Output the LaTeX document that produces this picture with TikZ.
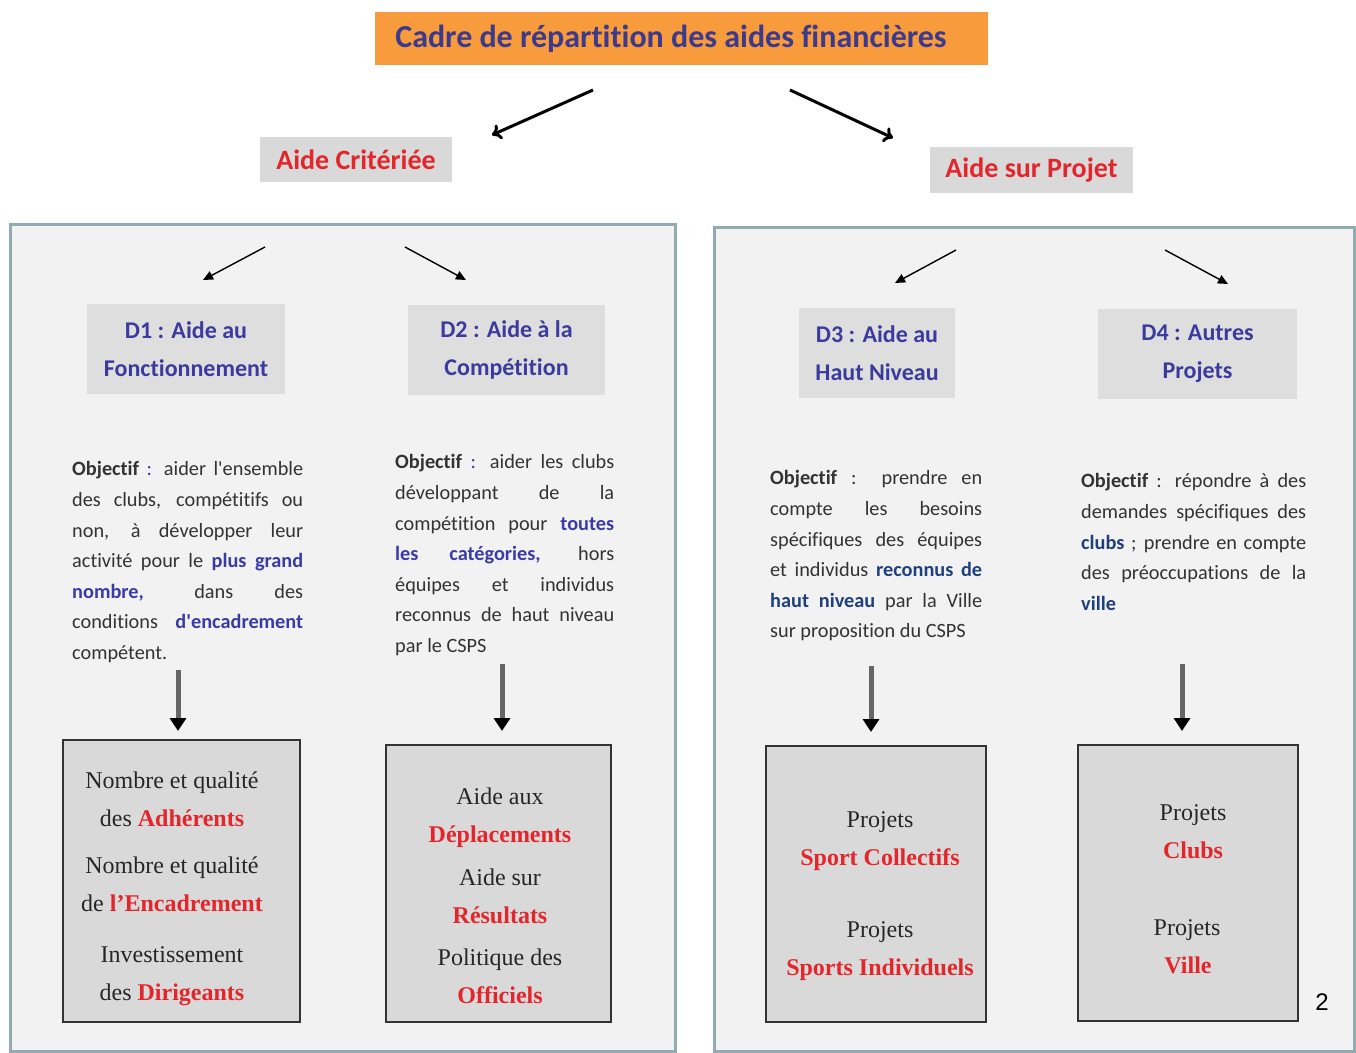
\documentclass[tikz,border=0pt]{standalone}
\usepackage{fontspec}
\setmainfont{Liberation Serif}
\newfontfamily\calfont[Ligatures=NoCommon]{Carlito}
\newfontfamily\arialfont{Liberation Sans}
\usetikzlibrary{arrows.meta}
\definecolor{orangeT}{HTML}{F89B3C}
\definecolor{titleT}{HTML}{3C3A8C}
\definecolor{boxgray}{HTML}{D9D9D9}
\definecolor{hdrgray}{HTML}{DEDEDE}
\definecolor{panelbg}{HTML}{F2F2F2}
\definecolor{panelborder}{HTML}{90ACB0}
\definecolor{hdrblue}{HTML}{3B3B9E}
\definecolor{redT}{HTML}{E3262B}
\definecolor{objblue}{HTML}{3B3BA8}
\definecolor{objnavy}{HTML}{1F3F7F}
\definecolor{bodygray}{HTML}{333333}
\newcommand\bl[1]{\textcolor{objblue}{\textbf{#1}}}
\newcommand\nv[1]{\textcolor{objnavy}{\textbf{#1}}}
\newcommand\rd[1]{\textcolor{redT}{\textbf{#1}}}
\newcommand\justline[2]{\makebox[#1][s]{#2}}
\tikzset{
  titlebox/.style={fill=orangeT, minimum width=613pt, minimum height=53pt, inner sep=0pt,
    font=\calfont\bfseries\fontsize{32}{36}\selectfont, text=titleT},
  aidebox/.style={fill=boxgray, inner sep=0pt, font=\calfont\bfseries\fontsize{28}{32}\selectfont, text=redT},
  panel/.style={fill=panelbg, draw=panelborder, line width=3pt},
  hdrbox/.style={fill=hdrgray, inner sep=0pt, align=center, minimum height=90pt,
    font=\calfont\bfseries\fontsize{24}{38}\selectfont, text=hdrblue},
  objtext/.style={inner sep=0pt, align=left, anchor=north west, text=bodygray,
    font=\calfont\fontsize{20.3}{30.6}\selectfont},
  resbox/.style={fill=boxgray, draw=black!80, line width=2pt, inner sep=0pt},
  restext/.style={inner sep=0pt, align=center, text=black!85, font=\fontsize{24}{38}\selectfont},
  bigarrow/.style={line width=3pt, -{To[length=9pt,width=16pt,line width=3pt]}},
  smallarrow/.style={line width=1.4pt, -{Triangle[length=10pt,width=9pt]}},
  downarrow/.style={line width=5pt, draw=black!60, -{Triangle[length=13pt,width=16pt,color=black]}}
}
\begin{document}
\begin{tikzpicture}[x=1pt,y=-1pt]
\useasboundingbox (0,0) rectangle (1356,1052);
\fill[white] (0,0) rectangle (1356,1052);

% title
\node[titlebox] (title) at (681.5,38.5) {\hspace*{-21pt}\raisebox{-3pt}{Cadre de répartition des aides financières}};
\coordinate (tl1) at (593,90); \coordinate (tl2) at (492,135);
\coordinate (tr1) at (790,90); \coordinate (tr2) at (893,138);
\draw[bigarrow] (tl1) -- (tl2);
\draw[bigarrow] (tr1) -- (tr2);

\node[aidebox, minimum width=192pt, minimum height=45pt] (crit) at (356,159.5) {Aide Critériée};
\node[aidebox, minimum width=203pt, minimum height=46pt] (proj) at (1031.5,170) {Aide sur Projet};

% panels
\node[panel, minimum width=665pt, minimum height=827pt, inner sep=0pt] (pleft) at (342.5,637.5) {};
\node[panel, minimum width=640pt, minimum height=824pt, inner sep=0pt] (pright) at (1034,639) {};

% panel arrows
\coordinate (a1s) at (265,247); \coordinate (a1e) at (203,280);
\coordinate (a2s) at (405,247); \coordinate (a2e) at (466,280);
\coordinate (a3s) at (956,250); \coordinate (a3e) at (895,283);
\coordinate (a4s) at (1165,250); \coordinate (a4e) at (1228,284);
\draw[smallarrow] (a1s) -- (a1e);
\draw[smallarrow] (a2s) -- (a2e);
\draw[smallarrow] (a3s) -- (a3e);
\draw[smallarrow] (a4s) -- (a4e);

% header boxes
\node[hdrbox, minimum width=198pt] (d1) at (186,349) {\raisebox{-3pt}{D1 : Aide au}\\\raisebox{-3pt}{Fonctionnement}};
\node[hdrbox, minimum width=197pt] (d2) at (506.5,350) {\raisebox{-3pt}{D2 : Aide à la}\\\raisebox{-3pt}{Compétition}};
\node[hdrbox, minimum width=156pt] (d3) at (877,353) {\raisebox{-3pt}{D3 : Aide au}\\\raisebox{-3pt}{Haut Niveau}};
\node[hdrbox, minimum width=199pt] (d4) at (1197.5,354) {\raisebox{-3pt}{D4 : Autres}\\\raisebox{-3pt}{Projets}};

% objectives
\node[objtext] (o1) at (72,461.5) {%
\justline{231pt}{\textbf{Objectif} \textcolor{objblue}{:} aider l'ensemble}\\
\justline{231pt}{des clubs, compétitifs ou}\\
\justline{231pt}{non, à développer leur}\\
\justline{231pt}{activité pour le \bl{plus grand}}\\
\justline{231pt}{\bl{nombre,} dans des}\\
\justline{231pt}{conditions \bl{d'encadrement}}\\
compétent.};

\node[objtext] (o2) at (395,454.5) {%
\justline{219pt}{\textbf{Objectif} \textcolor{objblue}{:} aider les clubs}\\
\justline{219pt}{développant de la}\\
\justline{219pt}{compétition pour \bl{toutes}}\\
\justline{219pt}{\bl{les catégories,} hors}\\
\justline{219pt}{équipes et individus}\\
\justline{219pt}{reconnus de haut niveau}\\
par le CSPS};

\node[objtext] (o3) at (770,470.5) {%
\justline{212pt}{\textbf{Objectif} : prendre en}\\
\justline{212pt}{compte les besoins}\\
\justline{212pt}{spécifiques des équipes}\\
\justline{212pt}{et individus \nv{reconnus de}}\\
\justline{212pt}{\nv{haut niveau} par la Ville}\\
sur proposition du CSPS};

\node[objtext] (o4) at (1081,473.5) {%
\justline{225pt}{\textbf{Objectif} : répondre à des}\\
\justline{225pt}{demandes spécifiques des}\\
\justline{225pt}{\nv{clubs} ; prendre en compte}\\
\justline{225pt}{des préoccupations de la}\\
\nv{ville}};

% result boxes
\node[resbox, minimum width=237pt, minimum height=282pt] (b1) at (181.5,881) {};
\node[resbox, minimum width=225pt, minimum height=277pt] (b2) at (498.5,883.5) {};
\node[resbox, minimum width=220pt, minimum height=276pt] (b3) at (876,884) {};
\node[resbox, minimum width=220pt, minimum height=276pt] (b4) at (1188,883) {};

\coordinate (v1) at (178,670);
\coordinate (v2) at (502,664);
\coordinate (v3) at (871,666);
\coordinate (v4) at (1182,664);
\draw[downarrow, shorten >=8pt] (v1) -- (v1 |- b1.north);
\draw[downarrow, shorten >=13pt] (v2) -- (v2 |- b2.north);
\draw[downarrow, shorten >=13pt] (v3) -- (v3 |- b3.north);
\draw[downarrow, shorten >=13pt] (v4) -- (v4 |- b4.north);

\node[restext] (t1) at (172,889) {Nombre et qualité\\des \rd{Adhérents}\\[9pt]Nombre et qualité\\de \rd{l’Encadrement}\\[13pt]Investissement\\des \rd{Dirigeants}};
\node[restext] (t2) at (500,896) {Aide aux\\\rd{Déplacements}\\[5pt]Aide sur\\\rd{Résultats}\\[4pt]Politique des\\\rd{Officiels}};
\node[restext] (t3) at (880,896.5) {Projets\\\rd{Sport Collectifs}\\[34pt]Projets\\\rd{Sports Individuels}};
\node[restext] (t4) at (1190,889) {\hspace*{6pt}Projets\\\hspace*{6pt}\rd{Clubs}\\[39pt]\hspace*{-6pt}Projets\\\hspace*{-4pt}\rd{Ville}};

\node[font=\arialfont\fontsize{24}{28}\selectfont, inner sep=0pt] (pg) at (1322,1002) {2};
\end{tikzpicture}
\end{document}
